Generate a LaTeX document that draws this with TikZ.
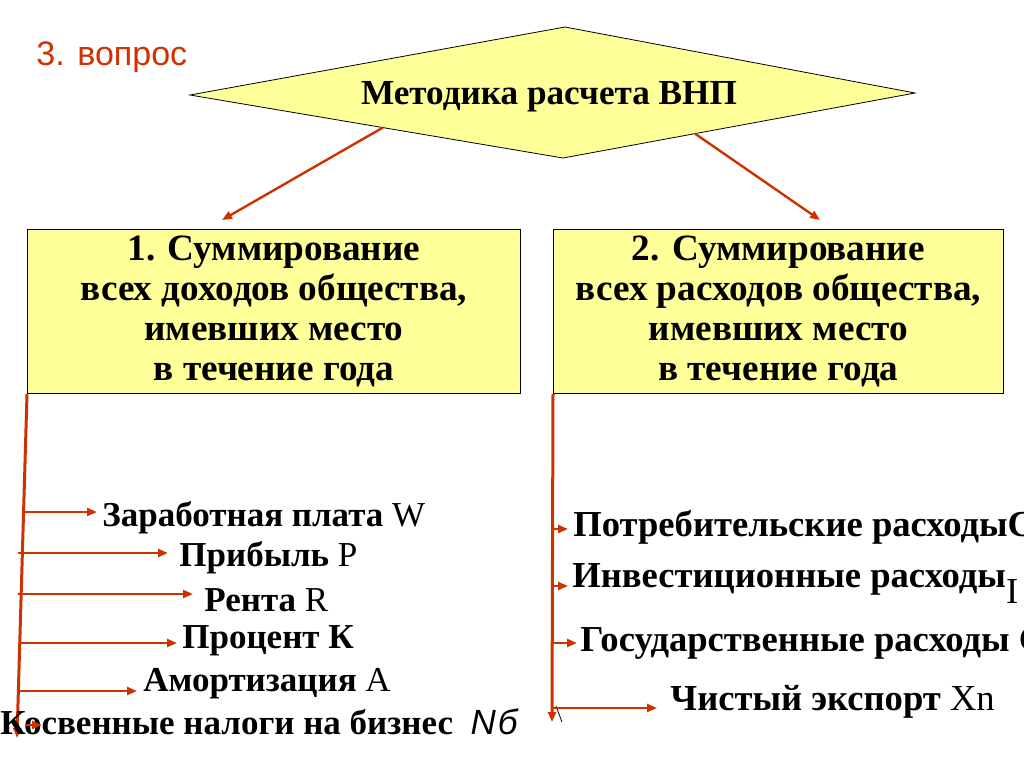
\documentclass[tikz,border=0pt]{standalone}
\usepackage{fontspec}
\setmainfont{Liberation Serif}
\setsansfont{Liberation Sans}
\usetikzlibrary{arrows.meta,positioning,calc}
\definecolor{arrred}{RGB}{204,51,0}
\definecolor{boxyellow}{RGB}{255,255,153}
\tikzset{
  redarrow/.style={draw=arrred, line width=1.2pt, -{Triangle[length=5pt,width=4pt]}},
  itembox/.style={draw=black, fill=boxyellow, line width=0.4pt, align=center,
    font=\fontsize{18.6}{20}\selectfont\bfseries},
  itemtext/.style={font=\fontsize{17.5}{19}\selectfont\bfseries, inner sep=0pt, anchor=west},
}
\begin{document}
\begin{tikzpicture}[x=0.5pt,y=-0.5pt]
\useasboundingbox (0,0) rectangle (1024,767);
\clip (0,0) rectangle (1024,767);
\node[text=arrred, font=\sffamily\fontsize{17}{20}\selectfont, anchor=west, inner sep=0pt] (title) at (36,57) {3. вопрос};
% the diamond on top
\coordinate (dl) at (190,95);
\coordinate (dt) at (565,27);
\coordinate (dr) at (915,93);
\coordinate (db) at (563,158);
\draw[fill=boxyellow, line width=0.4pt] (dl) -- (dt) -- (dr) -- (db) -- cycle;
\node[font=\fontsize{17.6}{20}\selectfont\bfseries] (gnp) at (549,97) {Методика расчета ВНП};
% the two boxes
\node[itembox, anchor=north west, minimum width=246.5pt, minimum height=80.5pt] (inc) at (27,229)
  {1. Суммирование\\всех доходов общества,\\имевших место\\в течение года};
\node[itembox, anchor=north west, minimum width=225pt, minimum height=80.5pt] (exp) at (553,229)
  {2. Суммирование\\всех расходов общества,\\имевших место\\в течение года};
\coordinate (incin) at (222,220);
\coordinate (expin) at (820,220);
\draw[redarrow] ($(dl)!0.517!(db)$) -- (incin);
\draw[redarrow] ($(dr)!0.625!(db)$) -- (expin);
% the two vertical lines
\coordinate (incend) at (17,738);
\coordinate (expend) at (552,722);
\draw[redarrow, line width=1.5pt] (inc.south west) -- (incend);
\draw[redarrow, line width=1.5pt] (exp.south west) -- (expend);
\draw[black, line width=0.4pt] (556,706) -- (562,722);
% incomes, edit here for the arrows and their texts
\foreach \n/\y/\xs/\xe/\tx/\ty/\txt in {
  wage/512/25/97/102/518/{Заработная плата {\mdseries W}},
  prof/553/18/168/179/558/{Прибыль {\mdseries P}},
  rent/594/18/193/204/600/{Рента {\mdseries R}},
  intr/643/20/177/182/641/{Процент К},
  amor/691/20/137/143/684/{Амортизация {\mdseries A}},
  taxb/725/25/42/0/722/{Косвенные налоги на бизнес\ \ {\sffamily\mdseries\itshape N\kern1pt б}}}
{
  \node[itemtext] (\n) at (\tx,\ty) {\txt};
  \draw[redarrow] (\xs,\y) -- (\xe,\y);
}
% expenditures
\foreach \n/\y/\xe/\tx/\ty/\txt in {
  cons/529/568/573/527/{Потребительские расходыС},
  invs/586/568/572/584/{Инвестиционные расходы\raisebox{-8pt}{\mdseries I}},
  govt/643/577/580/643/{Государственные расходы G},
  nexp/708/657/670/702/{Чистый экспорт {\mdseries Xn}}}
{
  \node[itemtext, font=\fontsize{18.3}{19}\selectfont\bfseries] (\n) at (\tx,\ty) {\txt};
  \draw[redarrow] (553,\y) -- (\xe,\y);
}
\end{tikzpicture}
\end{document}
